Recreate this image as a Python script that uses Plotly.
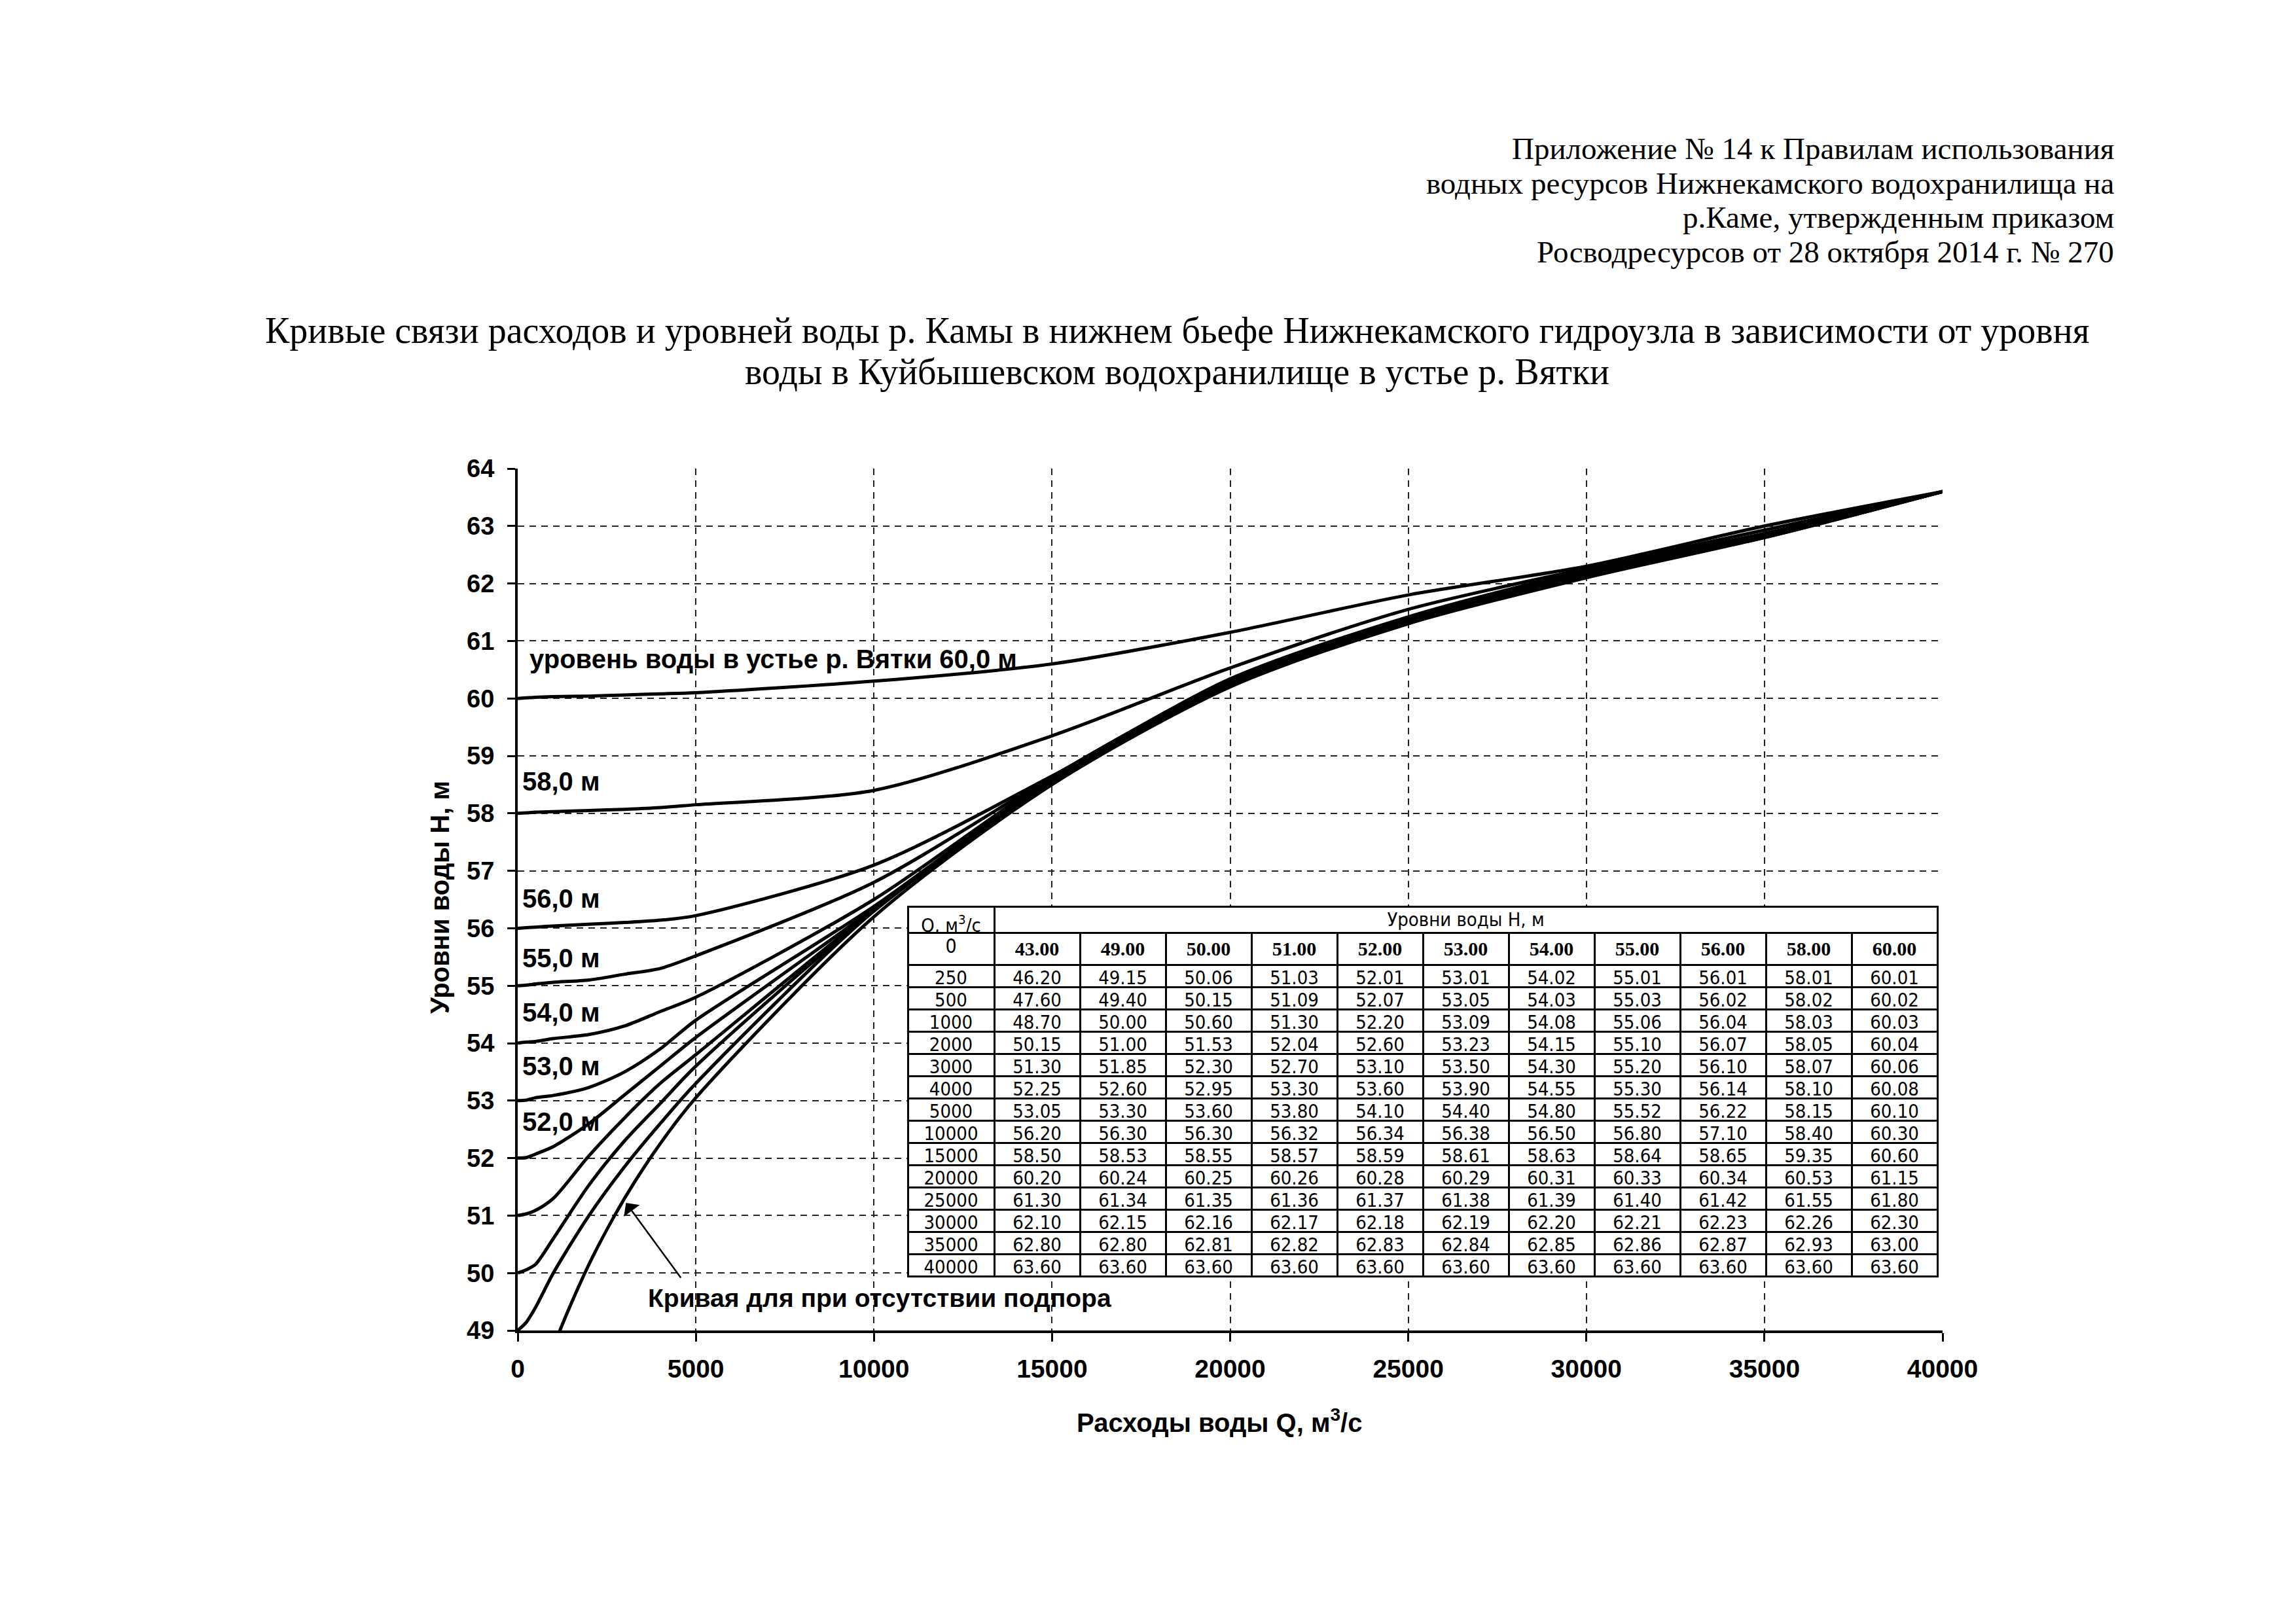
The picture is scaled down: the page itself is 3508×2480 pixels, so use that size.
import plotly.graph_objects as go

# ---------------- data ----------------
Q = [0, 250, 500, 1000, 2000, 3000, 4000, 5000, 10000, 15000, 20000, 25000, 30000, 35000, 40000]
LEVELS = ["43.00", "49.00", "50.00", "51.00", "52.00", "53.00", "54.00", "55.00", "56.00", "58.00", "60.00"]
H_43 = [43.00, 46.20, 47.60, 48.70, 50.15, 51.30, 52.25, 53.05, 56.20, 58.50, 60.20, 61.30, 62.10, 62.80, 63.60]
H_49 = [49.00, 49.15, 49.40, 50.00, 51.00, 51.85, 52.60, 53.30, 56.30, 58.53, 60.24, 61.34, 62.15, 62.80, 63.60]
H_50 = [50.00, 50.06, 50.15, 50.60, 51.53, 52.30, 52.95, 53.60, 56.30, 58.55, 60.25, 61.35, 62.16, 62.81, 63.60]
H_51 = [51.00, 51.03, 51.09, 51.30, 52.04, 52.70, 53.30, 53.80, 56.32, 58.57, 60.26, 61.36, 62.17, 62.82, 63.60]
H_52 = [52.00, 52.01, 52.07, 52.20, 52.60, 53.10, 53.60, 54.10, 56.34, 58.59, 60.28, 61.37, 62.18, 62.83, 63.60]
H_53 = [53.00, 53.01, 53.05, 53.09, 53.23, 53.50, 53.90, 54.40, 56.38, 58.61, 60.29, 61.38, 62.19, 62.84, 63.60]
H_54 = [54.00, 54.02, 54.03, 54.08, 54.15, 54.30, 54.55, 54.80, 56.50, 58.63, 60.31, 61.39, 62.20, 62.85, 63.60]
H_55 = [55.00, 55.01, 55.03, 55.06, 55.10, 55.20, 55.30, 55.52, 56.80, 58.64, 60.33, 61.40, 62.21, 62.86, 63.60]
H_56 = [56.00, 56.01, 56.02, 56.04, 56.07, 56.10, 56.14, 56.22, 57.10, 58.65, 60.34, 61.42, 62.23, 62.87, 63.60]
H_58 = [58.00, 58.01, 58.02, 58.03, 58.05, 58.07, 58.10, 58.15, 58.40, 59.35, 60.53, 61.55, 62.26, 62.93, 63.60]
H_60 = [60.00, 60.01, 60.02, 60.03, 60.04, 60.06, 60.08, 60.10, 60.30, 60.60, 61.15, 61.80, 62.30, 63.00, 63.60]
SERIES = [H_43, H_49, H_50, H_51, H_52, H_53, H_54, H_55, H_56, H_58, H_60]

CURVE_LABELS = ["уровень воды в устье р. Вятки 60,0 м", "58,0 м", "56,0 м", "55,0 м", "54,0 м", "53,0 м", "52,0 м"]
LABEL_Q = [290, 90, 90, 90, 90, 90, 90]
LABEL_H = [60.69, 58.56, 56.52, 55.48, 54.54, 53.60, 52.63]

HEADER_LINES = [
    "Приложение № 14 к Правилам использования",
    "водных ресурсов Нижнекамского водохранилища на",
    "р.Каме, утвержденным приказом",
    "Росводресурсов от 28 октября 2014 г. № 270",
]
TITLE_LINES = [
    "Кривые связи расходов и уровней воды р. Камы в нижнем бьефе Нижнекамского гидроузла в зависимости от уровня",
    "воды в Куйбышевском водохранилище в устье р. Вятки",
]
NO_BACKWATER = "Кривая для при отсутствии подпора"
X_TITLE = "Расходы воды Q, м<sup>3</sup>/с"
Y_TITLE = "Уровни воды H, м"
TABLE_Q_HEAD = "Q, м<sup>3</sup>/с"
TABLE_H_HEAD = "Уровни воды H, м"

# ---------------- layout geometry (pixels) ----------------
W, H = 3508, 2480
L, R, T, B = 783, 2960, 708, 2025
PW, PH = R - L, B - T


def py(pix):
    return (B - pix) / PH


def px(pix):
    return (pix - L) / PW


SANS = "Liberation Sans, Arial, sans-serif"
SERIF = "Liberation Serif, Times New Roman, serif"
NARROW = "Liberation Sans Narrow, Arial Narrow, DejaVu Sans Condensed, Liberation Sans, sans-serif"

fig = go.Figure()

for vals in SERIES:
    fig.add_trace(go.Scatter(x=Q, y=vals, mode="lines",
                             line=dict(color="black", width=5, shape="spline", smoothing=0.8),
                             showlegend=False, hoverinfo="skip"))

# ---------------- table ----------------
TX0, TX1 = 1379, 2952
tbl_top = 1377
head_h = 40
row_h = 34
colw = [132] + [131] * len(LEVELS)

fig.add_trace(go.Table(
    domain=dict(x=[px(TX0), px(TX1)], y=[py(tbl_top + 120), py(tbl_top)]),
    columnwidth=[132, 131 * len(LEVELS)],
    header=dict(values=[TABLE_Q_HEAD, TABLE_H_HEAD],
                height=head_h, align="center",
                font=dict(family=NARROW, size=29, color="black"),
                fill=dict(color="white"),
                line=dict(color="black", width=3)),
    cells=dict(values=[[""], [""]], height=row_h,
               fill=dict(color="white"), line=dict(color="white", width=0)),
))

head_vals = [str(Q[0])] + ["<b>%.2f</b>" % vals[0] for vals in SERIES]
head_fonts = [NARROW] + [SERIF] * len(SERIES)
cols = [[str(q) for q in Q[1:]]]
for vals in SERIES:
    cols.append(["%.2f" % v for v in vals[1:]])

fig.add_trace(go.Table(
    domain=dict(x=[px(TX0), px(TX1)], y=[py(2000), py(tbl_top + head_h)]),
    columnwidth=colw,
    header=dict(values=head_vals, height=36, align="center",
                font=dict(family=head_fonts, size=30, color="black"),
                fill=dict(color="white"),
                line=dict(color="black", width=3)),
    cells=dict(values=cols, height=row_h, align="center",
               font=dict(family=NARROW, size=29, color="black"),
               fill=dict(color="white"),
               line=dict(color="black", width=3)),
))

# ---------------- annotations ----------------
ann = []
hy = [219, 272, 324, 377]
for txt, yy in zip(HEADER_LINES, hy):
    ann.append(dict(text=txt, xref="paper", yref="paper", x=px(3224), y=py(yy),
                    xanchor="right", yanchor="middle", showarrow=False,
                    font=dict(family=SERIF, size=47, color="black")))
ty = [497, 560]
for txt, yy in zip(TITLE_LINES, ty):
    ann.append(dict(text=txt, xref="paper", yref="paper", x=px(1790), y=py(yy),
                    xanchor="center", yanchor="middle", showarrow=False,
                    font=dict(family=SERIF, size=56, color="black")))
for txt, xq, yh in zip(CURVE_LABELS, LABEL_Q, LABEL_H):
    ann.append(dict(text="<b>%s</b>" % txt, x=xq, y=yh, xref="x", yref="y",
                    xanchor="left", yanchor="middle", showarrow=False,
                    font=dict(family=SANS, size=40, color="black")))
ann.append(dict(text="<b>%s</b>" % NO_BACKWATER, x=3620, y=49.56, xref="x", yref="y",
                xanchor="left", yanchor="middle", showarrow=False,
                font=dict(family=SANS, size=39, color="black")))
ann.append(dict(text="", x=3040, y=51.22, xref="x", yref="y",
                ax=4600, ay=49.9, axref="x", ayref="y",
                showarrow=True, arrowhead=1, arrowsize=2, arrowwidth=2.5, arrowcolor="black"))
ann.append(dict(text="<b>%s</b>" % X_TITLE, xref="paper", yref="paper", x=px(1855), y=py(2163),
                xanchor="center", yanchor="middle", showarrow=False,
                font=dict(family=SANS, size=40, color="black")))
ann.append(dict(text="<b>%s</b>" % Y_TITLE, xref="paper", yref="paper", x=px(664), y=py(1363),
                xanchor="center", yanchor="middle", showarrow=False, textangle=-90,
                font=dict(family=SANS, size=40, color="black")))

grid = dict(showgrid=True, gridcolor="#222222", gridwidth=2, griddash="10px,8px")

fig.update_layout(
    width=W, height=H,
    margin=dict(l=L, r=W - R, t=T, b=H - B, pad=0),
    paper_bgcolor="white", plot_bgcolor="white",
    showlegend=False,
    annotations=ann,
    xaxis=dict(range=[0, 40000], dtick=5000, tick0=0, tickformat="d",
               showline=True, linecolor="black", linewidth=4,
               ticks="outside", ticklen=13, tickwidth=3, tickcolor="black",
               ticklabelstandoff=8,
               tickfont=dict(family=SANS, size=39, color="black", weight="bold"),
               zeroline=False, mirror=False, **grid),
    yaxis=dict(range=[49, 64], dtick=1, tick0=49, showline=True, linecolor="black", linewidth=4,
               ticks="outside", ticklen=12, tickwidth=3, tickcolor="black",
               ticklabelstandoff=12,
               tickfont=dict(family=SANS, size=38, color="black", weight="bold"),
               zeroline=False, **grid),
)

fig.write_html("out.html")
